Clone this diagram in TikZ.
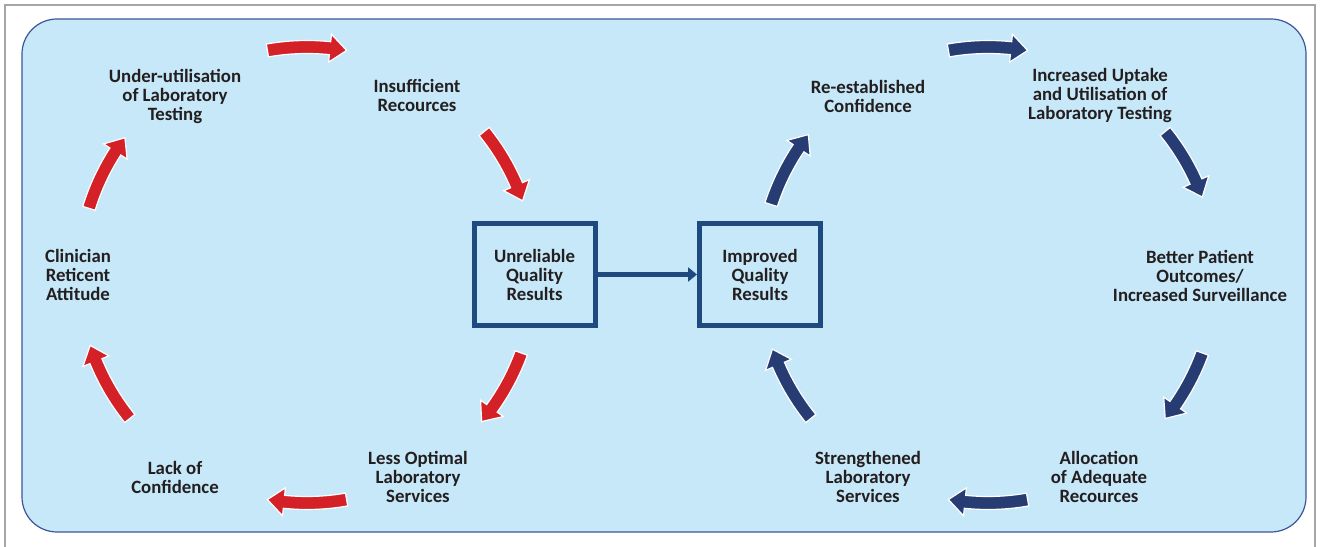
\documentclass[tikz,border=0pt]{standalone}
\usepackage{fontspec}
\setmainfont{Carlito}
\usetikzlibrary{arrows.meta}

\definecolor{bgblue}{HTML}{C7E8F8}
\definecolor{rimblue}{HTML}{3B5597}
\definecolor{boxblue}{HTML}{1F4A80}
\definecolor{cycred}{HTML}{D42027}
\definecolor{cycnavy}{HTML}{263C73}
\definecolor{textgray}{HTML}{231F20}
\definecolor{framegray}{HTML}{A6A6A6}

\tikzset{
  cyctext/.style={align=center, text=textgray, font=\fontsize{18.8}{19}\selectfont\bfseries},
  resultbox/.style={cyctext, draw=boxblue, line width=5pt, minimum width=121pt, minimum height=102pt, inner sep=0pt},
  cycarrow/.style={draw=white, line width=1.2pt, line join=miter},
}

\begin{document}
\begin{tikzpicture}[x=1pt, y=1pt]
        \useasboundingbox (0,0) rectangle (1324,546);

        \draw[framegray, line width=1.2pt] (5,-10) -- (5,541) -- (1315,541) -- (1315,-10);
        \draw[rimblue, fill=bgblue, line width=1.2pt, rounded corners=35pt] (22,14) rectangle (1306,527);

        % left cycle
        \node[cyctext] (under) at (175,450) {Under-utilisation\\of Laboratory\\Testing};
        \node[cyctext] (insuff) at (417,450.5) {Insufficient\\Recources};
        \node[cyctext] (clin) at (78,271) {Clinician\\Reticent\\Attitude};
        \node[cyctext] (lack) at (175,68.5) {Lack of\\Confidence};
        \node[cyctext] (less) at (418,69) {Less Optimal\\Laboratory\\Services};
        \node[resultbox] (unrel) at (534.5,271.5) {Unreliable\\Quality\\Results};

        % right cycle
        \node[resultbox] (impr) at (760,271.5) {Improved\\Quality\\Results};
        \node[cyctext] (reest) at (868,449.5) {Re-established\\Confidence};
        \node[cyctext] (incr) at (1100,450) {Increased Uptake\\and Utilisation of\\Laboratory Testing};
        \node[cyctext] (better) at (1200,270) {Better Patient\\Outcomes/\\Increased Surveillance};
        \node[cyctext] (alloc) at (1099,69) {Allocation\\of Adequate\\Recources};
        \node[cyctext] (streng) at (868,69) {Strengthened\\Laboratory\\Services};

        \draw[boxblue, line width=5pt, -{Triangle[length=9pt, width=14pt]}] (unrel) -- (impr);

        \foreach \s / \e in {100/80, 39/19, -20/-40, -80/-100, -141/-162, 163/143} {
        \pgfmathsetmacro\hb{\e+4.2}
        \filldraw[cycarrow, fill=cycred, shift={(307,271)}] (\s:221.5) -- (\s:234.5) arc[start angle=\s, end angle=\hb, radius=234.5] -- (\hb:242) -- (\e:228) -- (\hb:214) -- (\hb:221.5) arc[start angle=\hb, end angle=\s, radius=221.5] -- cycle;
        }

        \foreach \s / \e in {162/142, 100/80, 39/20, -20/-39, -80/-100, -141/-161} {
        \pgfmathsetmacro\hb{\e+4.2}
        \filldraw[cycarrow, fill=cycnavy, shift={(988,271)}] (\s:221.5) -- (\s:234.5) arc[start angle=\s, end angle=\hb, radius=234.5] -- (\hb:242) -- (\e:228) -- (\hb:214) -- (\hb:221.5) arc[start angle=\hb, end angle=\s, radius=221.5] -- cycle;
        }

\end{tikzpicture}
\end{document}
